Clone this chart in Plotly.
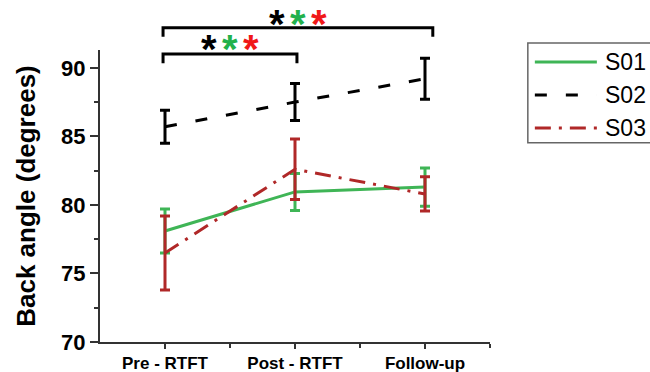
import plotly.graph_objects as go

categories = ["Pre - RTFT", "Post - RTFT", "Follow-up"]
x_pos = [0, 1, 2]

series_names = ["S01", "S02", "S03"]
s01_mean = [78.1, 80.95, 81.3]
s01_err = [1.6, 1.35, 1.4]
s02_mean = [85.7, 87.5, 89.2]
s02_err = [1.2, 1.35, 1.5]
s03_mean = [76.5, 82.6, 80.8]
s03_err = [2.7, 2.2, 1.25]

y_ticks = [70, 75, 80, 85, 90]
y_minor = [72.5, 77.5, 82.5, 87.5]

GREEN = "#3fb556"
RED = "#b02828"
styles = [
    dict(color=GREEN, width=3),
    dict(color="black", width=3, dash="12px,19px"),
    dict(color=RED, width=3, dash="16px,8px,3px,8px"),
]
means = [s01_mean, s02_mean, s03_mean]
errs = [s01_err, s02_err, s03_err]

fig = go.Figure()
for name, m, e, st in zip(series_names, means, errs, styles):
    fig.add_trace(go.Scatter(
        x=x_pos, y=m, name=name, mode="lines", line=st, showlegend=False,
        error_y=dict(type="data", array=e, color=st["color"], thickness=3, width=5),
    ))

xr = [-0.5, 2.5]


def px(v):
    return (v - xr[0]) / (xr[1] - xr[0])


# significance brackets: (from category, to category, left pad, right pad, y low, y high, star y)
brackets = [
    (0, 1, -0.005, 0.005, 0.955, 0.986, 1.003),
    (0, 2, -0.005, 0.02, 1.045, 1.076, 1.088),
]
for a, b, pl, pr, ylo, yhi, ystar in brackets:
    x0 = px(a) + pl
    x1 = px(b) + pr
    fig.add_shape(type="path",
                  path=f"M {x0} {ylo} L {x0} {yhi} L {x1} {yhi} L {x1} {ylo}",
                  xref="paper", yref="paper",
                  line=dict(color="black", width=3))
    xc = (x0 + x1) / 2
    for dx, col in [(-0.054, "black"), (0.0, "#22b14c"), (0.054, "#f01818")]:
        fig.add_annotation(text="<b>*</b>", x=xc + dx, y=ystar, xref="paper", yref="paper",
                           showarrow=False, font=dict(size=40, color=col, family="Liberation Sans"),
                           xanchor="center", yanchor="middle")

# legend box (drawn manually to match the long line samples)
fig.add_shape(type="rect", x0=1.097, x1=1.45, y0=0.682, y1=1.024, xref="paper", yref="paper",
              line=dict(color="#666", width=1.5), fillcolor="white", layer="below")
for i, (name, st) in enumerate(zip(series_names, styles)):
    yy = 0.959 - i * 0.113
    fig.add_shape(type="line", x0=1.115, x1=1.274, y0=yy, y1=yy, xref="paper", yref="paper",
                  line=st)
    fig.add_annotation(text=name, x=1.29, y=yy, xref="paper", yref="paper", showarrow=False,
                       xanchor="left", yanchor="middle",
                       font=dict(size=23, color="black", family="Liberation Sans"))

fig.update_layout(
    width=650, height=372,
    margin=dict(l=100, r=160, t=50, b=30, autoexpand=False),
    paper_bgcolor="white", plot_bgcolor="white",
    font=dict(family="Liberation Sans, Arial", color="black"),
    showlegend=False,
    xaxis=dict(range=xr, tickmode="array", tickvals=x_pos, ticktext=categories,
               showline=True, linecolor="#333", linewidth=2, mirror=False,
               ticks="outside", ticklen=5, tickwidth=2, tickcolor="#333",
               showgrid=False, zeroline=False,
               tickfont=dict(size=17, weight="bold", color="black"),
               minor=dict(tickvals=[0.5, 1.5, 2.5], ticks="outside", ticklen=4, tickwidth=1.5, tickcolor="#333")),
    yaxis=dict(range=[70, 91.3], tickmode="array", tickvals=y_ticks,
               showline=True, linecolor="#333", linewidth=2,
               ticks="outside", ticklen=8, tickwidth=2, tickcolor="#333",
               showgrid=False, zeroline=False,
               tickfont=dict(size=22, weight="bold", color="black"),
               title=dict(text="Back angle (degrees)", font=dict(size=26, weight="bold", color="black"), standoff=18),
               minor=dict(tickvals=y_minor, ticks="outside", ticklen=4, tickwidth=1.5, tickcolor="#333")),
)

fig.write_html("out.html")
